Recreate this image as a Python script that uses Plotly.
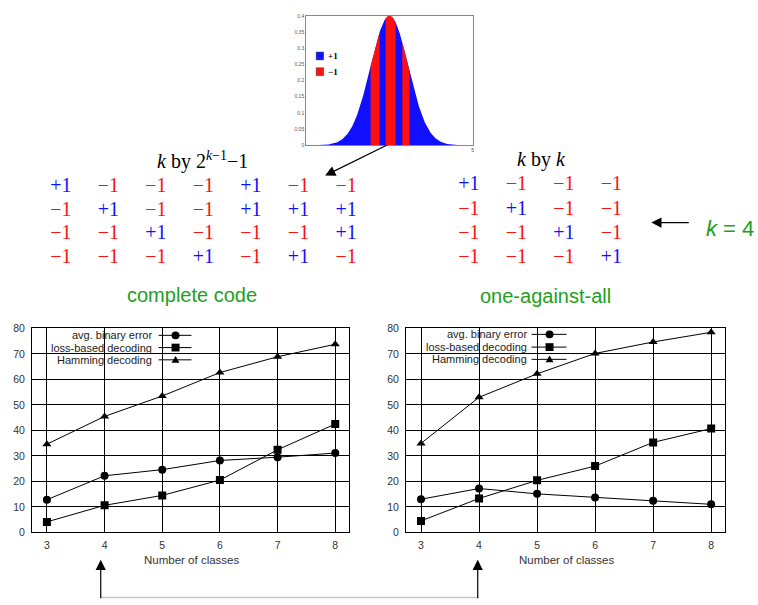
import numpy as np
import plotly.graph_objects as go

W, H = 758, 605

# ---------------- data ----------------
classes = [3, 4, 5, 6, 7, 8]
y_ticks = [0, 10, 20, 30, 40, 50, 60, 70, 80]
series_names = ["avg. binary error", "loss-based decoding", "Hamming decoding"]
series_symbols = ["circle", "square", "triangle-up"]

complete_avg_binary = [12.8, 22.2, 24.6, 28.2, 29.5, 31.1]
complete_loss_based = [4.1, 10.6, 14.5, 20.5, 32.4, 42.5]
complete_hamming = [34.6, 45.5, 53.5, 62.7, 68.9, 73.8]

ova_avg_binary = [13.0, 17.2, 15.1, 13.7, 12.4, 11.0]
ova_loss_based = [4.5, 13.3, 20.4, 26.0, 35.3, 40.7]
ova_hamming = [34.9, 53.0, 62.2, 70.2, 74.7, 78.5]

complete_code = [
    [+1, -1, -1, -1, +1, -1, -1],
    [-1, +1, -1, -1, +1, +1, +1],
    [-1, -1, +1, -1, -1, -1, +1],
    [-1, -1, -1, +1, -1, +1, -1],
]
one_against_all = [
    [+1, -1, -1, -1],
    [-1, +1, -1, -1],
    [-1, -1, +1, -1],
    [-1, -1, -1, +1],
]

gauss_peak, gauss_sd = 0.4, 1.14
red_bands = [(-1.13, -0.59), (-0.23, 0.37), (0.77, 1.21)]
gauss_yticks = [0, 0.05, 0.1, 0.15, 0.2, 0.25, 0.3, 0.35, 0.4]
gauss_yticktext = ["0", "0.05", "0.1", "0.15", "0.2", "0.25", "0.3", "0.35", "0.4"]

BLUE = "#1010ff"
RED = "#ff1010"
GREEN = "#22a022"
SERIF = "Liberation Serif"
SANS = "Liberation Sans"


def px(x):
    return x / W


def py(y):
    return 1 - y / H


def bell(x):
    return gauss_peak * np.exp(-0.5 * (x / gauss_sd) ** 2)


fig = go.Figure()

# ---------------- line charts ----------------
charts = [
    ("x", "y", [complete_avg_binary, complete_loss_based, complete_hamming]),
    ("x2", "y2", [ova_avg_binary, ova_loss_based, ova_hamming]),
]
for xa, ya, series in charts:
    for name, sym, vals in zip(series_names, series_symbols, series):
        fig.add_trace(go.Scatter(
            x=classes, y=vals, mode="lines+markers", name=name,
            line=dict(color="black", width=1),
            marker=dict(symbol=sym, size=8, color="black"),
            xaxis=xa, yaxis=ya, showlegend=False, hoverinfo="skip",
        ))

# ---------------- gaussian ----------------
gx = np.linspace(-4.6, 4.6, 461)
fig.add_trace(go.Scatter(
    x=gx, y=bell(gx), mode="lines", fill="tozeroy", fillcolor=BLUE,
    line=dict(color=BLUE, width=0), xaxis="x3", yaxis="y3",
    showlegend=False, hoverinfo="skip",
))
for a, b in red_bands:
    bx = np.linspace(a, b, 40)
    fig.add_trace(go.Scatter(
        x=bx, y=bell(bx), mode="lines", fill="tozeroy", fillcolor=RED,
        line=dict(color=RED, width=0), xaxis="x3", yaxis="y3",
        showlegend=False, hoverinfo="skip",
    ))

# ---------------- code matrices ----------------
def matrix_trace(mat, xa, ya):
    xs, ys, txt, cols = [], [], [], []
    for r, row in enumerate(mat):
        for c, v in enumerate(row):
            xs.append(c)
            ys.append(r)
            txt.append("+1" if v > 0 else "\u22121")
            cols.append(BLUE if v > 0 else RED)
    return go.Scatter(
        x=xs, y=ys, mode="text", text=txt, textposition="middle center",
        textfont=dict(family=SERIF, size=20, color=cols),
        xaxis=xa, yaxis=ya, showlegend=False, hoverinfo="skip",
    )


fig.add_trace(matrix_trace(complete_code, "x4", "y4"))
fig.add_trace(matrix_trace(one_against_all, "x5", "y5"))

# ---------------- layout ----------------
tickfont = dict(family=SANS, size=10.5, color="#333333")
common_x = dict(
    range=[2.74, 8.24], tickvals=classes, showgrid=True, gridcolor="black", gridwidth=1,
    showline=True, linecolor="black", linewidth=1, mirror=True, zeroline=False,
    ticks="outside", ticklen=3, tickcolor="rgba(0,0,0,0)", tickfont=tickfont,
)
common_y = dict(
    range=[0, 80], tickvals=y_ticks, showgrid=True, gridcolor="black", gridwidth=1,
    showline=True, linecolor="black", linewidth=1, mirror=True, zeroline=False,
    ticks="outside", ticklen=4, tickcolor="rgba(0,0,0,0)", tickfont=tickfont,
)
chart_top, chart_bot = 329, 537
hidden = dict(visible=False, showgrid=False, zeroline=False)

fig.update_layout(
    width=W, height=H, autosize=False,
    margin=dict(l=0, r=0, t=0, b=0, pad=0),
    paper_bgcolor="white", plot_bgcolor="white",
    showlegend=False,
    xaxis=dict(common_x, domain=[px(32), px(350)], anchor="y"),
    yaxis=dict(common_y, domain=[py(chart_bot), py(chart_top)], anchor="x"),
    xaxis2=dict(common_x, domain=[px(407), px(727)], anchor="y2"),
    yaxis2=dict(common_y, domain=[py(chart_bot), py(chart_top)], anchor="x2"),
    xaxis3=dict(
        domain=[px(307), px(474)], anchor="y3", range=[-5, 5], tickvals=[5], ticktext=["5"],
        showgrid=False, zeroline=False, showline=True, linecolor="#888888", linewidth=1,
        mirror=True, ticks="", tickfont=dict(family=SANS, size=5, color="#555555"),
    ),
    yaxis3=dict(
        domain=[py(142), py(10)], anchor="x3", range=[0, 0.4], tickvals=gauss_yticks,
        ticktext=gauss_yticktext, showgrid=False, zeroline=False, showline=True,
        linecolor="#888888", linewidth=1, mirror=True, ticks="",
        tickfont=dict(family=SANS, size=5, color="#555555"),
    ),
    xaxis4=dict(hidden, domain=[px(61 - 23.8), px(347 + 23.8)], anchor="y4", range=[-0.5, 6.5]),
    yaxis4=dict(hidden, domain=[py(257 + 12), py(185 - 12)], anchor="x4", range=[3.5, -0.5]),
    xaxis5=dict(hidden, domain=[px(470 - 23.8), px(613 + 23.8)], anchor="y5", range=[-0.5, 3.5]),
    yaxis5=dict(hidden, domain=[py(257 + 12.3), py(183 - 12.3)], anchor="x5", range=[3.5, -0.5]),
)

shapes = []
annotations = []

# legend panels for the two line charts
legend_specs = [
    (40, 193, 154, 159, 192, 176, [336, 348.5, 361]),
    (416, 570, 530, 533, 568, 551, [335, 348, 360.5]),
]
for rx0, rx1, tx, lx0, lx1, mx, rows in legend_specs:
    shapes.append(dict(type="rect", xref="paper", yref="paper", layer="between",
                       x0=px(rx0), x1=px(rx1), y0=py(366), y1=py(330),
                       fillcolor="white", line=dict(width=0)))
    for name, sym, ry in zip(series_names, series_symbols, rows):
        annotations.append(dict(
            xref="paper", yref="paper", x=px(tx), y=py(ry), xanchor="right", yanchor="middle",
            text=name, showarrow=False, font=dict(family=SANS, size=11, color="#222222"),
        ))
        shapes.append(dict(type="line", xref="paper", yref="paper", layer="above",
                           x0=px(lx0), x1=px(lx1), y0=py(ry), y1=py(ry),
                           line=dict(color="black", width=1)))
        if sym == "circle":
            shapes.append(dict(type="circle", xref="paper", yref="paper", layer="above",
                               x0=px(mx - 4), x1=px(mx + 4), y0=py(ry + 4), y1=py(ry - 4),
                               fillcolor="black", line=dict(width=0)))
        elif sym == "square":
            shapes.append(dict(type="rect", xref="paper", yref="paper", layer="above",
                               x0=px(mx - 4), x1=px(mx + 4), y0=py(ry + 4), y1=py(ry - 4),
                               fillcolor="black", line=dict(width=0)))
        else:
            path = "M {},{} L {},{} L {},{} Z".format(
                px(mx - 4), py(ry + 3), px(mx + 4), py(ry + 3), px(mx), py(ry - 4))
            shapes.append(dict(type="path", xref="paper", yref="paper", layer="above",
                               path=path, fillcolor="black", line=dict(width=0)))

# axis titles
for cx in (192, 568):
    annotations.append(dict(
        xref="paper", yref="paper", x=px(cx), y=py(565), xanchor="center", yanchor="middle",
        text="Number of classes", showarrow=False, font=dict(family=SANS, size=11.5, color="#333333"),
    ))

# gaussian legend
for ry, col, lab in [(51, BLUE, "+1"), (67, RED, "\u22121")]:
    shapes.append(dict(type="rect", xref="paper", yref="paper", layer="above",
                       x0=px(317), x1=px(324.5), y0=py(ry + 4), y1=py(ry - 4),
                       fillcolor=col, line=dict(color="#333333", width=0.5)))
    annotations.append(dict(
        xref="paper", yref="paper", x=px(327), y=py(ry), xanchor="left", yanchor="middle",
        text="<b>" + lab + "</b>", showarrow=False, font=dict(family=SERIF, size=9, color="black"),
    ))

# titles and captions
annotations += [
    dict(xref="paper", yref="paper", x=px(203), y=py(158), xanchor="center", yanchor="middle",
         text="<i>k</i> by 2<sup><i>k</i>\u22121</sup>\u22121", showarrow=False,
         font=dict(family=SERIF, size=20, color="black")),
    dict(xref="paper", yref="paper", x=px(543), y=py(157), xanchor="center", yanchor="middle",
         text="<i>k</i> by <i>k</i>", showarrow=False,
         font=dict(family=SERIF, size=20, color="black")),
    dict(xref="paper", yref="paper", x=px(193), y=py(295), xanchor="center", yanchor="middle",
         text="complete code", showarrow=False, font=dict(family=SANS, size=20, color=GREEN)),
    dict(xref="paper", yref="paper", x=px(547), y=py(296), xanchor="center", yanchor="middle",
         text="one-against-all", showarrow=False, font=dict(family=SANS, size=20, color=GREEN)),
    dict(xref="paper", yref="paper", x=px(758), y=py(227), xanchor="right", yanchor="middle",
         text="<i>k</i> = 4", showarrow=False, font=dict(family=SANS, size=22, color=GREEN)),
]

# arrows
def arrow(tip, tail):
    return dict(xref="paper", yref="paper", x=px(tip[0]), y=py(tip[1]),
                axref="pixel", ayref="pixel", ax=tail[0] - tip[0], ay=tail[1] - tip[1],
                text="", showarrow=True, arrowhead=2, arrowsize=1.7, arrowwidth=1.2,
                arrowcolor="black", standoff=0, startstandoff=0)


annotations += [
    arrow((326, 173), (389, 142)),
    arrow((653, 221), (692, 221)),
    arrow((101, 565), (101, 605)),
    arrow((479, 565), (479, 605)),
]
shapes.append(dict(type="line", xref="paper", yref="paper", layer="above",
                   x0=px(101), x1=px(479), y0=py(603.5), y1=py(603.5),
                   line=dict(color="#c4c4c4", width=1.5)))

fig.update_layout(shapes=shapes, annotations=annotations)
fig.write_html(
    "out.html",
    config={"displayModeBar": False},
    post_script="document.body.style.margin='0';document.body.style.overflow='hidden';",
)
